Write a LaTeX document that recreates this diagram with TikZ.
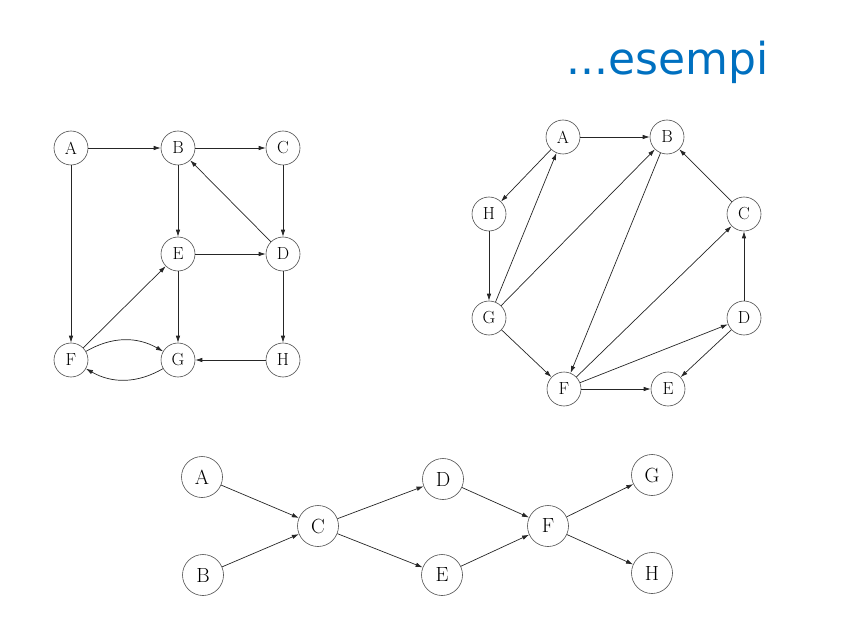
\documentclass[tikz,border=0pt]{standalone}
\usepackage{fontspec}
\newfontfamily\titlefont{DejaVu Sans}
\usetikzlibrary{positioning,arrows.meta}
\definecolor{titleblue}{RGB}{0,112,192}
\tikzset{
    vertex/.style = {
        draw=black!70,
        shape=circle,
        minimum size=34pt,
        inner sep=0pt,
        line width=0.6pt,
        font=\fontsize{17.5}{17.5}\selectfont
    },
    bigvertex/.style = {
        vertex,
        minimum size=41pt,
        font=\fontsize{20.5}{20.5}\selectfont
    },
    title/.style = {
        anchor=base west,
        inner sep=0pt,
        text=titleblue,
        font=\titlefont\fontsize{44}{44}\selectfont
    },
    arc/.style = {
        draw=black!85,
        line width=0.7pt,
        ->
    },
    >={Latex[length=7pt,width=4.5pt]},
}

\begin{document}
\begin{tikzpicture}[x=1pt,y=-1pt]
            \useasboundingbox (0,0) rectangle (841,639);

            \node[title] (title) at (566,75) {...esempi};

            % first graph
            \node[vertex] (a1) at (71,148) {A};
            \node[vertex] (b1) at (178,148) {B};
            \node[vertex] (c1) at (283,148) {C};
            \node[vertex] (e1) at (178,254) {E};
            \node[vertex] (d1) at (283,254) {D};
            \node[vertex] (f1) at (71,360) {F};
            \node[vertex] (g1) at (178,360) {G};
            \node[vertex] (h1) at (283,360) {H};

            \path[arc] (a1) -- (b1);
            \path[arc] (b1) -- (c1);
            \path[arc] (a1) -- (f1);
            \path[arc] (b1) -- (e1);
            \path[arc] (c1) -- (d1);
            \path[arc] (d1) -- (b1);
            \path[arc] (e1) -- (d1);
            \path[arc] (e1) -- (g1);
            \path[arc] (d1) -- (h1);
            \path[arc] (f1) -- (e1);
            \path[arc] (h1) -- (g1);
            \path[arc] (f1) to[bend left=30] (g1);
            \path[arc] (g1) to[bend left=30] (f1);

            % second graph
            \node[vertex] (a2) at (563,137) {A};
            \node[vertex] (b2) at (667,137) {B};
            \node[vertex] (h2) at (489,214) {H};
            \node[vertex] (c2) at (744,214) {C};
            \node[vertex] (g2) at (489,318) {G};
            \node[vertex] (d2) at (744,318) {D};
            \node[vertex] (f2) at (564,389) {F};
            \node[vertex] (e2) at (668,389) {E};

            \path[arc] (a2) -- (b2);
            \path[arc] (a2) -- (h2);
            \path[arc] (h2) -- (g2);
            \path[arc] (g2) -- (a2);
            \path[arc] (g2) -- (b2);
            \path[arc] (b2) -- (f2);
            \path[arc] (c2) -- (b2);
            \path[arc] (d2) -- (c2);
            \path[arc] (g2) -- (f2);
            \path[arc] (f2) -- (c2);
            \path[arc] (f2) -- (d2);
            \path[arc] (f2) -- (e2);
            \path[arc] (d2) -- (e2);

            % third graph
            \node[bigvertex] (a3) at (202,477) {A};
            \node[bigvertex] (b3) at (203,575) {B};
            \node[bigvertex] (c3) at (318,526) {C};
            \node[bigvertex] (d3) at (443,479) {D};
            \node[bigvertex] (e3) at (442,575) {E};
            \node[bigvertex] (f3) at (548,526) {F};
            \node[bigvertex] (g3) at (652,475) {G};
            \node[bigvertex] (h3) at (652,573) {H};

            \path[arc] (a3) -- (c3);
            \path[arc] (b3) -- (c3);
            \path[arc] (c3) -- (d3);
            \path[arc] (c3) -- (e3);
            \path[arc] (d3) -- (f3);
            \path[arc] (e3) -- (f3);
            \path[arc] (f3) -- (g3);
            \path[arc] (f3) -- (h3);
\end{tikzpicture}
\end{document}
